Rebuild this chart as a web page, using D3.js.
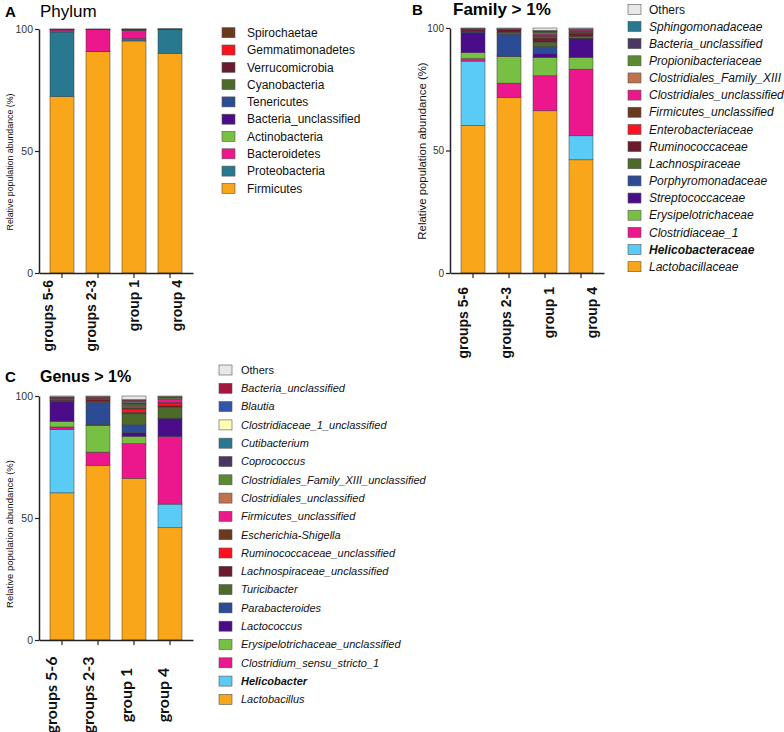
<!DOCTYPE html>
<html><head><meta charset="utf-8">
<script src="https://cdn.jsdelivr.net/npm/d3@7"></script>
<style>
html,body{margin:0;padding:0;background:#fff;}
svg{display:block;}
</style></head>
<body>
<svg id="chart" width="784" height="732"></svg>
<script>
// ---------------- DATA ----------------
const groups = ["groups 5-6", "groups 2-3", "group 1", "group 4"];
const yTicks = [0, 50, 100];

// Panel A (Phylum) – stacking order bottom -> top
const phylumNames = ["Firmicutes","Proteobacteria","Bacteroidetes","Actinobacteria","Bacteria_unclassified","Tenericutes","Cyanobacteria","Verrucomicrobia","Gemmatimonadetes","Spirochaetae"];
const phylumColors = ["#FAA61A","#28788F","#EC178C","#78C043","#4B0C8A","#2B4C94","#4D6A2B","#6C1B2E","#FF1220","#6A3A1F"];
// rows = groups (same order as `groups`), columns = phylumNames
const phylumValues = [
  [72.3, 26.5, 0.8, 0.1, 0.1, 0.1, 0, 0.05, 0, 0.05],
  [90.7, 0.1, 9.0, 0.05, 0.05, 0.05, 0, 0.05, 0, 0],
  [95.1, 0.9, 3.5, 0.05, 0.2, 0.1, 0.05, 0.05, 0.02, 0.03],
  [90.0, 9.9, 0.05, 0.02, 0.01, 0.01, 0, 0.01, 0, 0]
];

// Panel B (Family > 1%)
const familyNames = ["Lactobacillaceae","Helicobacteraceae","Clostridiaceae_1","Erysipelotrichaceae","Streptococcaceae","Porphyromonadaceae","Lachnospiraceae","Ruminococcaceae","Enterobacteriaceae","Firmicutes_unclassified","Clostridiales_unclassified","Clostridiales_Family_XIII","Propionibacteriaceae","Bacteria_unclassified","Sphingomonadaceae","Others"];
const familyColors = ["#FAA61A","#5ACBF4","#EC178C","#78C043","#4B0C8A","#2B4C94","#4D6A2B","#6C1B2E","#FF1220","#6A3A1F","#EC178C","#C1714B","#5B8A30","#4A3764","#28788F","#E8E8E8"];
const familyValues = [
  [60.2, 26.3, 1.0, 2.4, 8.1, 0.4, 0.3, 0.6, 0.1, 0.3, 0.1, 0, 0, 0.1, 0, 0.1],
  [71.6, 0, 5.9, 10.9, 0.4, 8.7, 0.7, 1.2, 0.1, 0.2, 0, 0, 0, 0.1, 0, 0.2],
  [66.2, 0, 14.3, 7.5, 1.5, 3.0, 1.8, 1.6, 0.6, 0.5, 0.5, 0.5, 0.4, 0.3, 0.3, 1.0],
  [46.2, 9.8, 27.2, 4.8, 7.6, 0.2, 0.8, 1.3, 0.3, 0.7, 0.5, 0.2, 0.1, 0, 0, 0.3]
];

// Panel C (Genus > 1%)
const genusNames = ["Lactobacillus","Helicobacter","Clostridium_sensu_stricto_1","Erysipelotrichaceae_unclassified","Lactococcus","Parabacteroides","Turicibacter","Lachnospiraceae_unclassified","Ruminococcaceae_unclassified","Escherichia-Shigella","Firmicutes_unclassified","Clostridiales_unclassified","Clostridiales_Family_XIII_unclassified","Coprococcus","Cutibacterium","Clostridiaceae_1_unclassified","Blautia","Bacteria_unclassified","Others"];
const genusColors = ["#FAA61A","#5ACBF4","#EC178C","#78C043","#4B0C8A","#2B4C94","#4D6A2B","#6C1B2E","#FF1220","#6A3A1F","#EC178C","#C1714B","#5B8A30","#4A3764","#28788F","#FFFCB5","#3055AA","#A3173F","#E8E8E8"];
const genusValues = [
  [60.3, 25.9, 1.1, 2.3, 8.0, 0.3, 0.2, 0.4, 0.5, 0.1, 0.2, 0, 0, 0.2, 0, 0, 0, 0.2, 0.3],
  [71.5, 0, 5.5, 11.0, 0.4, 9.0, 0.4, 0.8, 0.5, 0.2, 0.3, 0, 0, 0, 0, 0, 0, 0.2, 0.2],
  [66.3, 0, 14.2, 3.0, 1.5, 3.2, 4.5, 0.6, 1.4, 0.4, 0.6, 0.5, 0.5, 0.4, 0.3, 0.3, 0.4, 0.4, 1.5],
  [46.0, 9.7, 27.2, 0.4, 7.4, 0.2, 4.6, 0.5, 1.0, 0.3, 1.2, 0.3, 0.6, 0.2, 0, 0, 0, 0.2, 0.2]
];

// ---------------- DRAWING ----------------
const svg = d3.select("#chart");
svg.append("rect").attr("width",784).attr("height",732).attr("fill","#fff");
const SANS = "'Liberation Sans', Arial, Helvetica, sans-serif";

function drawPanel(cfg) {
  const g = svg.append("g");
  const x = d3.scaleBand().domain(groups).range(cfg.xRange).paddingInner(0.3333).paddingOuter(0.3056);
  const y = d3.scaleLinear().domain([0, 100]).range(cfg.yRange);

  const rows = cfg.values.map((vals, i) => {
    const o = {group: groups[i]};
    cfg.names.forEach((n, j) => o[n] = vals[j]);
    return o;
  });
  const series = d3.stack().keys(cfg.names)(rows);
  const color = d3.scaleOrdinal().domain(cfg.names).range(cfg.colors);

  g.selectAll("g.layer").data(series).join("g")
    .attr("fill", d => color(d.key))
    .selectAll("rect").data(d => d.filter(s => s[1] - s[0] > 0)).join("rect")
      .attr("x", d => x(d.data.group))
      .attr("width", x.bandwidth())
      .attr("y", d => y(d[1]))
      .attr("height", d => y(d[0]) - y(d[1]))
      .attr("stroke", "#3b3b3b")
      .attr("stroke-width", 0.5);

  // y axis
  const ya = g.append("g").attr("transform", `translate(${cfg.xRange[0]},0)`)
    .call(d3.axisLeft(y).tickValues(yTicks).tickSize(4).tickSizeOuter(0).tickPadding(2));
  ya.select(".domain").attr("stroke", "#222").attr("stroke-width", 1.5);
  ya.selectAll(".tick line").attr("stroke", "#222").attr("stroke-width", 1.2);
  ya.selectAll(".tick text").attr("font-family", SANS).attr("font-size", cfg.tickFont).attr("fill", "#333");

  // x axis
  const xa = g.append("g").attr("transform", `translate(0,${cfg.yRange[0]})`)
    .call(d3.axisBottom(x).tickSize(5).tickSizeOuter(0).tickFormat(""));
  xa.select(".domain").attr("stroke", "#222").attr("stroke-width", 1.5);
  xa.selectAll(".tick line").attr("stroke", "#222").attr("stroke-width", 1.2);

  // x category labels (rotated)
  const lx = d3.scalePoint().domain(groups).range(cfg.labelRange);
  g.selectAll("text.xl").data(groups).join("text")
    .attr("class", "xl")
    .attr("transform", d => `translate(${lx(d)},${cfg.labelY}) rotate(-90)`)
    .attr("text-anchor", cfg.labelAnchor)
    .attr("font-family", cfg.labelFamily)
    .attr("font-weight", "bold")
    .attr("font-size", cfg.labelFont)
    .attr("fill", "#111")
    .text(d => d);

  // y title
  g.append("text")
    .attr("transform", `translate(${cfg.yTitleX},${cfg.yTitleY}) rotate(-90)`)
    .attr("text-anchor", "middle")
    .attr("font-family", SANS)
    .attr("font-size", cfg.yTitleFont)
    .attr("fill", "#111")
    .text("Relative population abundance (%)");

  // panel letter and title
  g.append("text").attr("x", cfg.letterX).attr("y", cfg.titleY)
    .attr("font-family", SANS).attr("font-weight", "bold").attr("font-size", 15).attr("fill", "#000")
    .text(cfg.letter);
  g.append("text").attr("x", cfg.titleX).attr("y", cfg.titleY)
    .attr("font-family", SANS).attr("font-weight", cfg.titleWeight).attr("font-size", cfg.titleFont).attr("fill", "#000")
    .text(cfg.title);

  // legend (reverse of stacking order)
  const legNames = cfg.names.slice().reverse();
  const ly = d3.scalePoint().domain(legNames).range([cfg.legY0, cfg.legY0 + cfg.legStep * (legNames.length - 1)]);
  const leg = g.selectAll("g.leg").data(legNames).join("g")
    .attr("transform", d => `translate(${cfg.legX},${ly(d)})`);
  leg.append("rect").attr("x", 0).attr("y", -5).attr("width", 13).attr("height", 10)
    .attr("fill", d => color(d)).attr("stroke", "#555").attr("stroke-width", 0.6);
  leg.append("text").attr("x", cfg.legTextDx).attr("y", 0).attr("dy", "0.35em")
    .attr("font-family", SANS).attr("font-size", cfg.legFont).attr("fill", "#111")
    .attr("font-style", d => (cfg.italic && d !== "Others") ? "italic" : "normal")
    .attr("font-weight", d => cfg.boldItem === d ? "bold" : "normal")
    .text(d => d);
}

drawPanel({
  names: phylumNames, colors: phylumColors, values: phylumValues,
  xRange: [39, 193], yRange: [273, 29], tickFont: 10.5,
  labelRange: [53, 182], labelY: 280, labelAnchor: "end", labelFamily: SANS, labelFont: 14,
  yTitleX: 13, yTitleY: 162, yTitleFont: 8.8,
  letter: "A", letterX: 5, titleX: 40, titleY: 17, title: "Phylum", titleWeight: "normal", titleFont: 17,
  legX: 222, legY0: 32.7, legStep: 17.3, legTextDx: 25, legFont: 12, italic: false, boldItem: null
});

drawPanel({
  names: familyNames, colors: familyColors, values: familyValues,
  xRange: [450, 604], yRange: [273, 28], tickFont: 10,
  labelRange: [468, 597], labelY: 287, labelAnchor: "end", labelFamily: SANS, labelFont: 14,
  yTitleX: 426, yTitleY: 151, yTitleFont: 11.4,
  letter: "B", letterX: 412, titleX: 453, titleY: 15, title: "Family > 1%", titleWeight: "bold", titleFont: 17,
  legX: 628, legY0: 9.3, legStep: 17.16, legTextDx: 21, legFont: 12, italic: true, boldItem: "Helicobacteraceae"
});

drawPanel({
  names: genusNames, colors: genusColors, values: genusValues,
  xRange: [39, 193], yRange: [640, 396], tickFont: 10.5,
  labelRange: [57, 169], labelY: 695, labelAnchor: "middle", labelFamily: "Lato, 'Open Sans', sans-serif", labelFont: 16,
  yTitleX: 13, yTitleY: 534, yTitleFont: 9.5,
  letter: "C", letterX: 5, titleX: 40, titleY: 382, title: "Genus > 1%", titleWeight: "bold", titleFont: 16,
  legX: 219, legY0: 370, legStep: 18.3, legTextDx: 22, legFont: 11, italic: true, boldItem: "Helicobacter"
});
</script>
</body></html>
